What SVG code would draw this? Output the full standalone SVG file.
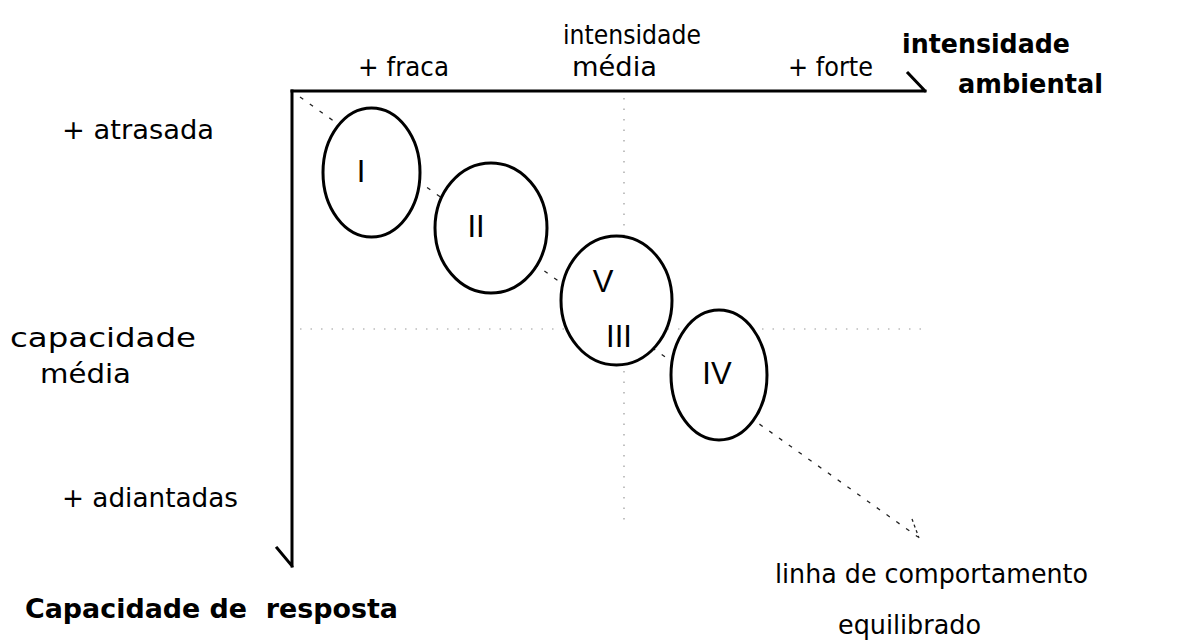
<svg xmlns="http://www.w3.org/2000/svg" width="1179" height="643" viewBox="0 0 1179 643">
  <style>
    .lbl { font-family: "DejaVu Sans", "Liberation Sans", sans-serif; font-size: 27px; fill: #000; }
    .bold { font-weight: bold; }
    .num { font-family: "Liberation Sans", sans-serif; font-size: 31px; fill: #000; text-anchor: middle; }
    .axis { stroke: #000; stroke-width: 3; fill: none; stroke-linecap: square; }
    .grid { stroke: #999; stroke-width: 1.2; stroke-dasharray: 1.5 9; fill: none; }
    .trend { stroke: #222; stroke-width: 1.3; stroke-dasharray: 4 8; fill: none; }
    .zone { fill: #fff; stroke: #000; stroke-width: 3; }
  </style>

  <!-- reference grid at medium intensity / medium capacity -->
  <g id="grid">
    <line class="grid" x1="624" y1="98" x2="624" y2="522"/>
    <line class="grid" x1="300" y1="329" x2="922" y2="329"/>
  </g>

  <!-- connectors: axes and balanced-behaviour line -->
  <g id="connectors">
    <path class="axis" d="M292 91 H925 M908 73 L925 91"/>
    <path class="axis" d="M292 91 V566 M277 548 L292 566"/>
    <line class="trend" x1="300" y1="97" x2="918" y2="537"/>
    <path d="M912 519 L919 538" stroke="#222" stroke-width="1.3" stroke-dasharray="3 3" fill="none"/>
  </g>

  <!-- zones -->
  <g id="zone-I">
    <ellipse class="zone" cx="371.5" cy="172.5" rx="48.5" ry="64.5"/>
    <text class="num" x="361" y="182">I</text>
  </g>
  <g id="zone-II">
    <ellipse class="zone" cx="491" cy="228" rx="56" ry="65"/>
    <text class="num" x="476" y="237">II</text>
  </g>
  <g id="zone-V-III">
    <ellipse class="zone" cx="616.5" cy="300.5" rx="55.5" ry="64.5"/>
    <text class="num" x="603" y="292">V</text>
    <text class="num" x="619" y="347">III</text>
  </g>
  <g id="zone-IV">
    <ellipse class="zone" cx="719" cy="375" rx="48" ry="65"/>
    <text class="num" x="717" y="384">IV</text>
  </g>

  <!-- horizontal axis labels -->
  <g id="x-labels">
    <text class="lbl" x="358" y="76" textLength="91" lengthAdjust="spacingAndGlyphs">+ fraca</text>
    <text class="lbl" x="563" y="44" textLength="138" lengthAdjust="spacingAndGlyphs">intensidade</text>
    <text class="lbl" x="572" y="76" textLength="85" lengthAdjust="spacingAndGlyphs">média</text>
    <text class="lbl" x="788" y="76" textLength="85" lengthAdjust="spacingAndGlyphs">+ forte</text>
    <text class="lbl bold" x="902" y="53" textLength="168" lengthAdjust="spacingAndGlyphs">intensidade</text>
    <text class="lbl bold" x="958" y="93" textLength="145" lengthAdjust="spacingAndGlyphs">ambiental</text>
  </g>

  <!-- vertical axis labels -->
  <g id="y-labels">
    <text class="lbl" x="62" y="139" textLength="152" lengthAdjust="spacingAndGlyphs">+ atrasada</text>
    <text class="lbl" x="10" y="347" textLength="186" lengthAdjust="spacingAndGlyphs">capacidade</text>
    <text class="lbl" x="40" y="383" textLength="91" lengthAdjust="spacingAndGlyphs">média</text>
    <text class="lbl" x="62" y="507" textLength="176" lengthAdjust="spacingAndGlyphs">+ adiantadas</text>
    <text class="lbl bold" x="25" y="618" textLength="373" lengthAdjust="spacingAndGlyphs" xml:space="preserve">Capacidade de  resposta</text>
  </g>

  <!-- trend line caption -->
  <g id="trend-label">
    <text class="lbl" x="775" y="583" textLength="313" lengthAdjust="spacingAndGlyphs">linha de comportamento</text>
    <text class="lbl" x="838" y="634" textLength="143" lengthAdjust="spacingAndGlyphs">equilibrado</text>
  </g>
</svg>
